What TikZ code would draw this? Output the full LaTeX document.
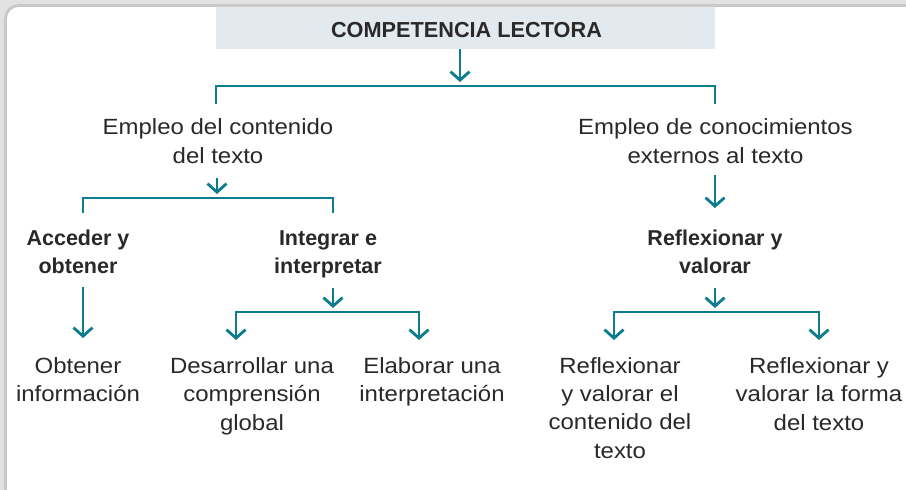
\documentclass[tikz,border=0pt]{standalone}
\usepackage{fontspec}
\setmainfont{Liberation Sans}[FakeStretch=1.09]
\newfontfamily\bsans{Liberation Sans}
\usetikzlibrary{arrows.meta}
\definecolor{teal1}{HTML}{0B7D8F}
\definecolor{boxfill}{HTML}{E2EAF0}
\definecolor{txt}{HTML}{2A2828}
\definecolor{frameout}{HTML}{E2E2E2}
\definecolor{framein}{HTML}{C9C9C9}
\begin{document}
\begin{tikzpicture}[x=1pt,y=-1pt,
  lbl/.style={align=center, inner sep=0pt, anchor=base, text=txt, font=\fontsize{22}{28.2}\selectfont},
  blbl/.style={lbl, font=\bsans\bfseries\fontsize{21.5}{28}\selectfont},
  conn/.style={draw=teal1, line width=2.8pt, line join=miter},
  arr/.style={conn, -{Straight Barb[length=8.5pt,width=19pt]}},
  arrboth/.style={conn, {Straight Barb[length=8.5pt,width=19pt]}-{Straight Barb[length=8.5pt,width=19pt]}},
]
\useasboundingbox (0,0) rectangle (906,490);
\clip (0,0) rectangle (906,490);
% frame
\fill[frameout] (0,0) rectangle (906,490);
\draw[framein, line width=3pt, rounded corners=13pt] (5.5,5.5) rectangle (960,560);
\fill[white, rounded corners=12pt] (7,7) rectangle (960,560);

% title
\node[fill=boxfill, minimum width=499pt, minimum height=42pt, inner sep=0pt, anchor=north west] (title) at (216,7) {};
\node[inner sep=0pt, anchor=base, text=txt, font=\bsans\bfseries\fontsize{21.7}{25}\selectfont] (titletext) at (466.5,37) {COMPETENCIA LECTORA};

% level 1
\coordinate (j0) at (460,86);
\coordinate (l1) at (216,104);
\coordinate (r1) at (715,104);
\draw[arr] (title.south -| j0) -- ([yshift=4pt]j0);
\draw[conn] (l1) |- (j0) -| (r1);

\node[lbl] (A) at (218,163) {Empleo del contenido\\del texto};
\node[lbl] (B) at (715.5,163) {Empleo de conocimientos\\externos al texto};

% level 2 left
\coordinate (a1) at (217,178);
\coordinate (j1) at (217,198);
\coordinate (l2) at (83,213);
\coordinate (r2) at (333,213);
\draw[arr] (a1) -- ([yshift=4pt]j1);
\draw[conn] (l2) |- (j1) -| (r2);

% level 2 right
\coordinate (b1) at (715,175);
\coordinate (b2) at (715,208);
\draw[arr] (b1) -- (b2);

\node[blbl] (C) at (78,273) {Acceder y\\obtener};
\node[blbl] (D) at (328,273) {Integrar e\\interpretar};
\node[blbl] (E) at (715,273) {Reflexionar y\\valorar};

% level 3
\coordinate (c1) at (83,287);
\coordinate (c2) at (83,338);
\draw[arr] (c1) -- (c2);

\coordinate (d1) at (333,288);
\coordinate (j2) at (333,312);
\coordinate (l3) at (236,340);
\coordinate (r3) at (419,340);
\draw[arr] (d1) -- ([yshift=4pt]j2);
\draw[arrboth] (l3) |- (j2) -| (r3);

\coordinate (e1) at (715,288);
\coordinate (j3) at (715,312);
\coordinate (l4) at (614,340);
\coordinate (r4) at (819,340);
\draw[arr] (e1) -- ([yshift=4pt]j3);
\draw[arrboth] (l4) |- (j3) -| (r4);

% bottom texts
\node[lbl] (F) at (78,401.5) {Obtener\\información};
\node[lbl] (G) at (252,430) {Desarrollar una\\comprensión\\global};
\node[lbl] (H) at (432,401.5) {Elaborar una\\interpretación};
\node[lbl] (I) at (620,458) {Reflexionar\\y valorar el\\contenido del\\texto};
\node[lbl] (J) at (819,430) {Reflexionar y\\valorar la forma\\del texto};
\end{tikzpicture}
\end{document}
